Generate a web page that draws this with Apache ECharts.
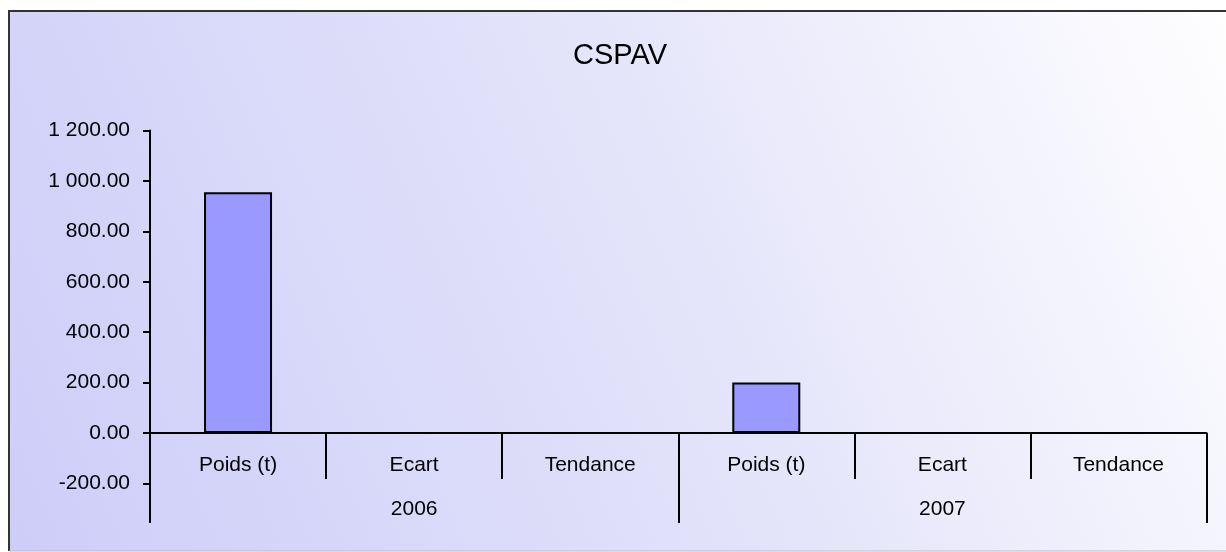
<!DOCTYPE html>
<html>
<head>
<meta charset="utf-8">
<script src="https://cdn.jsdelivr.net/npm/echarts@6/dist/echarts.min.js"></script>
<style>
  html, body { margin: 0; padding: 0; background: #fff; }
  #main { width: 1226px; height: 552px; }
</style>
</head>
<body>
<div id="main"></div>
<script>
// data
var categories = ['Poids (t)', 'Ecart', 'Tendance', 'Poids (t)', 'Ecart', 'Tendance'];
var years = ['2006', '2007'];
var weights = [955, null, null, 200, null, null];
var yMin = -200;
var yMax = 1200;
var yStep = 200;

var font = '"Liberation Sans", Arial, sans-serif';

function fmt(v) {
  var s = Math.abs(v).toFixed(2);
  var parts = s.split('.');
  parts[0] = parts[0].replace(/\B(?=(\d{3})+(?!\d))/g, ' ');
  return (v < 0 ? '-' : '') + parts.join('.');
}

var chartDom = document.getElementById('main');
var chart = echarts.init(chartDom);
var option;

var labelStyle = {
  interval: 0,
  fontFamily: font,
  fontSize: 21,
  color: '#000'
};

option = {
  animation: false,
  backgroundColor: '#fff',
  graphic: [
    {
      type: 'rect',
      z: -10,
      silent: true,
      shape: { x: 9, y: 11, width: 1240, height: 540 },
      style: {
        fill: new echarts.graphic.LinearGradient(0, 1, 1, 0, [
          { offset: 0, color: '#cdcdf9' },
          { offset: 0.5, color: '#e2e2fa' },
          { offset: 1, color: '#ffffff' }
        ])
      }
    },
    {
      type: 'polyline',
      z: -9,
      silent: true,
      shape: { points: [[9, 551], [9, 11], [1230, 11]] },
      style: { stroke: '#333', lineWidth: 2, fill: null }
    },
    {
      type: 'line',
      z: -9,
      silent: true,
      shape: { x1: 9, y1: 551, x2: 1230, y2: 551 },
      style: { stroke: '#b8b8c8', lineWidth: 1 }
    }
  ],
  title: {
    text: 'CSPAV',
    left: 568,
    top: 36,
    textStyle: {
      fontFamily: font,
      fontSize: 29,
      fontWeight: 'normal',
      color: '#000'
    }
  },
  grid: [
    // value area
    { left: 150, right: 19.5, top: 130.6, bottom: 68.6, outerBoundsMode: 'none' },
    // category label band under the zero line
    { left: 150, right: 19.5, top: 432, height: 1, outerBoundsMode: 'none' }
  ],
  xAxis: [
    {
      type: 'category',
      gridIndex: 0,
      data: categories,
      axisLine: { onZero: true, lineStyle: { color: '#000', width: 2 } },
      axisTick: { show: false },
      axisLabel: { show: false },
      splitLine: { show: false }
    },
    {
      type: 'category',
      gridIndex: 1,
      data: categories,
      position: 'bottom',
      axisLine: { show: false },
      axisTick: { show: true, length: 46, lineStyle: { color: '#000', width: 2 } },
      axisLabel: Object.assign({ margin: 22 }, labelStyle),
      splitLine: { show: false }
    },
    {
      type: 'category',
      gridIndex: 1,
      data: years,
      position: 'bottom',
      axisLine: { show: false },
      axisTick: { show: true, length: 90, lineStyle: { color: '#000', width: 2 } },
      axisLabel: Object.assign({ margin: 66 }, labelStyle),
      splitLine: { show: false }
    }
  ],
  yAxis: [
    {
      type: 'value',
      gridIndex: 0,
      min: yMin,
      max: yMax,
      interval: yStep,
      axisLine: { show: true, lineStyle: { color: '#000', width: 2 } },
      axisTick: { show: true, length: 7, lineStyle: { color: '#000', width: 2 } },
      axisLabel: {
        margin: 20,
        fontFamily: font,
        fontSize: 21,
        color: '#000',
        formatter: fmt
      },
      splitLine: { show: false }
    },
    {
      type: 'value',
      gridIndex: 1,
      show: false
    }
  ],
  series: [
    {
      name: 'Poids (t)',
      type: 'bar',
      xAxisIndex: 0,
      yAxisIndex: 0,
      data: weights,
      barWidth: 68,
      itemStyle: {
        color: '#9999ff',
        borderColor: '#000',
        borderWidth: 2
      }
    }
  ]
};

option && chart.setOption(option);
</script>
</body>
</html>
